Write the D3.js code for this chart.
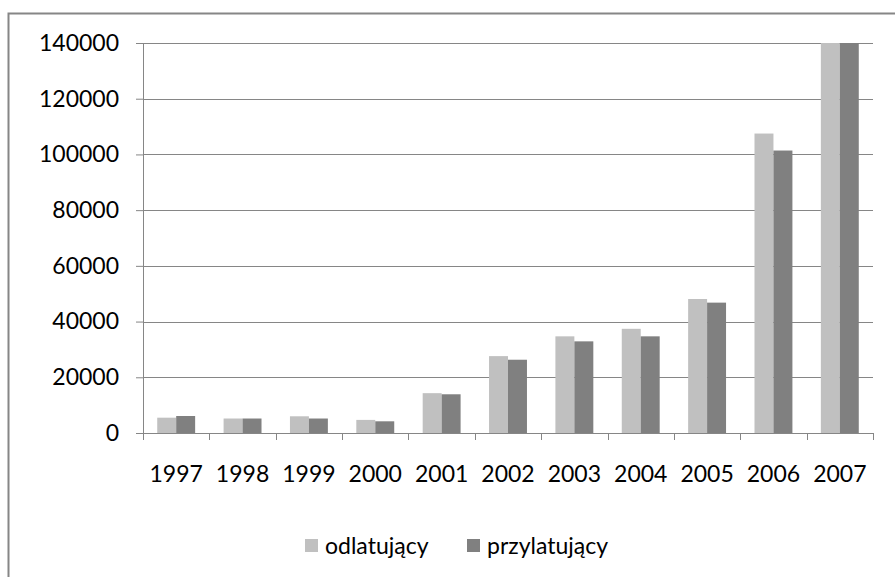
<!DOCTYPE html>
<html>
<head>
<meta charset="utf-8">
<script src="https://cdn.jsdelivr.net/npm/d3@7"></script>
<style>
  body { margin: 0; background: #fff; }
  svg text { font-family: Lato, "Open Sans", sans-serif; fill: #000; }
</style>
</head>
<body>
<div id="chart"></div>
<script>
var years = ["1997", "1998", "1999", "2000", "2001", "2002", "2003", "2004", "2005", "2006", "2007"];
var odlatujacy = [5500, 5200, 6000, 4700, 14300, 27600, 34700, 37400, 48100, 107500, 140000];
var przylatujacy = [6100, 5200, 5200, 4200, 13900, 26300, 32900, 34700, 46800, 101400, 140000];
var seriesNames = ["odlatujący", "przylatujący"];
var seriesColors = ["#c0c0c0", "#808080"];
var yTicks = [0, 20000, 40000, 60000, 80000, 100000, 120000, 140000];

const width = 895, height = 577;
const margin = ({ top: 43, right: 22, bottom: 144, left: 143 });
const plotW = width - margin.left - margin.right;
const plotH = height - margin.top - margin.bottom;

var svg = d3.select("#chart").append("svg")
    .attr("width", width)
    .attr("height", height);

// outer chart frame (right and bottom edges fall outside the picture)
svg.append("rect")
    .attr("x", 8.5).attr("y", 13.5)
    .attr("width", 1000).attr("height", 1000)
    .attr("fill", "none")
    .attr("stroke", "#868686")
    .attr("stroke-width", 2);

var g = svg.append("g")
    .attr("transform", `translate(${margin.left}, ${margin.top})`);

var x = d3.scaleBand()
    .domain(years)
    .range([0, plotW])
    .paddingInner(0)
    .paddingOuter(0);

var y = d3.scaleLinear()
    .domain([0, 140000])
    .range([plotH, 0]);

// Excel-like gap width 150%: bar width = band / 3.5
var barW = x.bandwidth() / 3.5;
var x1 = d3.scaleBand()
    .domain([0, 1])
    .range([barW * 0.75, barW * 2.75]);

// gridlines
g.append("g")
    .selectAll("line")
    .data(yTicks.filter(d => d > 0))
    .enter()
    .append("line")
    .attr("x1", 0).attr("x2", plotW)
    .attr("y1", d => Math.round(y(d)) + 0.5)
    .attr("y2", d => Math.round(y(d)) + 0.5)
    .attr("stroke", "#868686")
    .attr("stroke-width", 1);

// bars
var data = years.map((yr, i) => ({ year: yr, values: [odlatujacy[i], przylatujacy[i]] }));

var groups = g.selectAll(".year")
    .data(data)
    .enter()
    .append("g")
    .attr("class", "year")
    .attr("transform", d => `translate(${x(d.year)},0)`);

groups.selectAll("rect")
    .data(d => d.values.map((v, k) => ({ k: k, v: v })))
    .enter()
    .append("rect")
    .attr("x", d => x1(d.k))
    .attr("width", x1.bandwidth())
    .attr("y", d => y(Math.min(d.v, 140000)))
    .attr("height", d => plotH - y(Math.min(d.v, 140000)))
    .attr("fill", d => seriesColors[d.k]);

// y axis
var yAxis = d3.axisLeft(y)
    .tickValues(yTicks)
    .tickSize(7)
    .tickPadding(17)
    .tickFormat(d3.format("d"));

var yg = g.append("g").call(yAxis);
yg.select(".domain").attr("stroke", "#868686").attr("d", `M0.5,0V${plotH}`);
yg.selectAll(".tick line").attr("stroke", "#868686");
yg.selectAll("text").style("font-size", "23px");

// x axis
var xAxis = d3.axisBottom(x)
    .tickSize(0)
    .tickPadding(33);

var xg = g.append("g")
    .attr("transform", `translate(0,${plotH})`)
    .call(xAxis);
xg.select(".domain").attr("stroke", "#868686").attr("d", `M0,0.5H${plotW}`);
xg.selectAll("text").style("font-size", "23px");

// category boundary ticks
g.append("g")
    .selectAll("line")
    .data(d3.range(years.length + 1))
    .enter()
    .append("line")
    .attr("x1", d => Math.round(d * x.step()) + 0.5)
    .attr("x2", d => Math.round(d * x.step()) + 0.5)
    .attr("y1", plotH)
    .attr("y2", plotH + 7)
    .attr("stroke", "#868686");

// legend
var legend = svg.append("g")
    .attr("transform", "translate(305,539)");

var items = legend.selectAll("g")
    .data(seriesNames)
    .enter()
    .append("g")
    .attr("transform", (d, i) => `translate(${i * 162},0)`);

items.append("rect")
    .attr("width", 13).attr("height", 13)
    .attr("fill", (d, i) => seriesColors[i]);

items.append("text")
    .attr("x", 20)
    .attr("y", 7)
    .attr("dy", "0.35em")
    .style("font-size", "23px")
    .text(d => d);
</script>
</body>
</html>
